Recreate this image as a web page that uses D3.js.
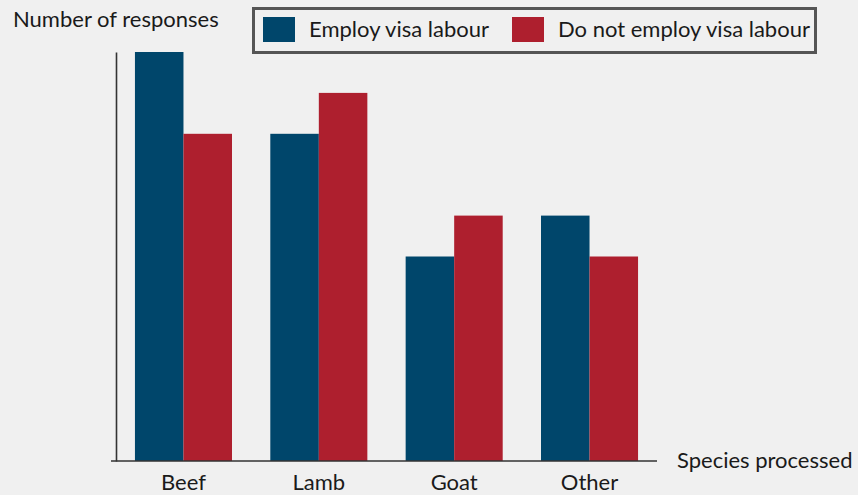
<!DOCTYPE html>
<html>
<head>
<meta charset="utf-8">
<script src="https://cdn.jsdelivr.net/npm/d3@7"></script>
<style>
  html, body { margin: 0; padding: 0; background: #f0f0f0; }
  svg { display: block; }
  text { font-family: Lato, "Open Sans", sans-serif; fill: #1a1a1a; }
</style>
</head>
<body>
<svg id="chart" width="858" height="495"></svg>
<script>
// Survey responses by species processed
const categories = ["Beef", "Lamb", "Goat", "Other"];
const seriesNames = ["Employ visa labour", "Do not employ visa labour"];
const employVisa = [10, 8, 5, 6];
const noVisa = [8, 9, 6, 5];
const colors = ["#00466b", "#ae1f2e"];

const FS = 22;
const svg = d3.select("#chart");
const W = 858, H = 495;
svg.append("rect").attr("width", W).attr("height", H).attr("fill", "#f0f0f0");

const x = d3.scaleBand()
  .domain(categories)
  .range([116, 657])
  .paddingInner(0.283)
  .paddingOuter(0.14);

const xSub = d3.scaleBand()
  .domain(seriesNames)
  .range([0, x.bandwidth()]);

const y = d3.scaleLinear().domain([0, 10]).range([461, 52]);

const rows = categories.map((c, i) => ({ cat: c, vals: [employVisa[i], noVisa[i]] }));

const groups = svg.append("g").selectAll("g")
  .data(rows).join("g")
  .attr("transform", d => `translate(${x(d.cat)},0)`);

groups.selectAll("rect")
  .data(d => d.vals.map((v, k) => ({ key: seriesNames[k], v, k })))
  .join("rect")
  .attr("x", d => xSub(d.key))
  .attr("width", xSub.bandwidth())
  .attr("y", d => y(d.v))
  .attr("height", d => y(0) - y(d.v))
  .attr("fill", d => colors[d.k]);

// Axes: plain lines, no ticks
const xAxis = svg.append("g")
  .attr("transform", `translate(0,${y(0)})`)
  .call(d3.axisBottom(x).tickSize(0).tickPadding(13));
xAxis.select(".domain").attr("stroke", "#333").attr("stroke-width", 1.6)
  .attr("d", `M111,0H657`);
xAxis.selectAll("text")
  .style("font-size", FS + "px")
  .style("font-family", "Lato, 'Open Sans', sans-serif")
  .attr("fill", "#1a1a1a");

const yAxis = svg.append("g")
  .attr("transform", "translate(116,0)")
  .call(d3.axisLeft(y).tickValues([]).tickSizeOuter(0));
yAxis.select(".domain").attr("stroke", "#333").attr("stroke-width", 1.6);

// Axis titles
svg.append("text").attr("x", 13).attr("y", 27)
  .style("font-size", FS + "px").text("Number of responses");
svg.append("text").attr("x", 677).attr("y", 468)
  .style("font-size", FS + "px").text("Species processed");

// Legend
const legend = svg.append("g");
legend.append("rect")
  .attr("x", 253.5).attr("y", 8.5).attr("width", 562).attr("height", 44)
  .attr("fill", "none").attr("stroke", "#555").attr("stroke-width", 3);
const legendX = [263, 512];
seriesNames.forEach((name, k) => {
  legend.append("rect")
    .attr("x", legendX[k]).attr("y", 17).attr("width", 32).attr("height", 25)
    .attr("fill", colors[k]);
  legend.append("text")
    .attr("x", legendX[k] + 46).attr("y", 37)
    .style("font-size", FS + "px").text(name);
});
</script>
</body>
</html>
